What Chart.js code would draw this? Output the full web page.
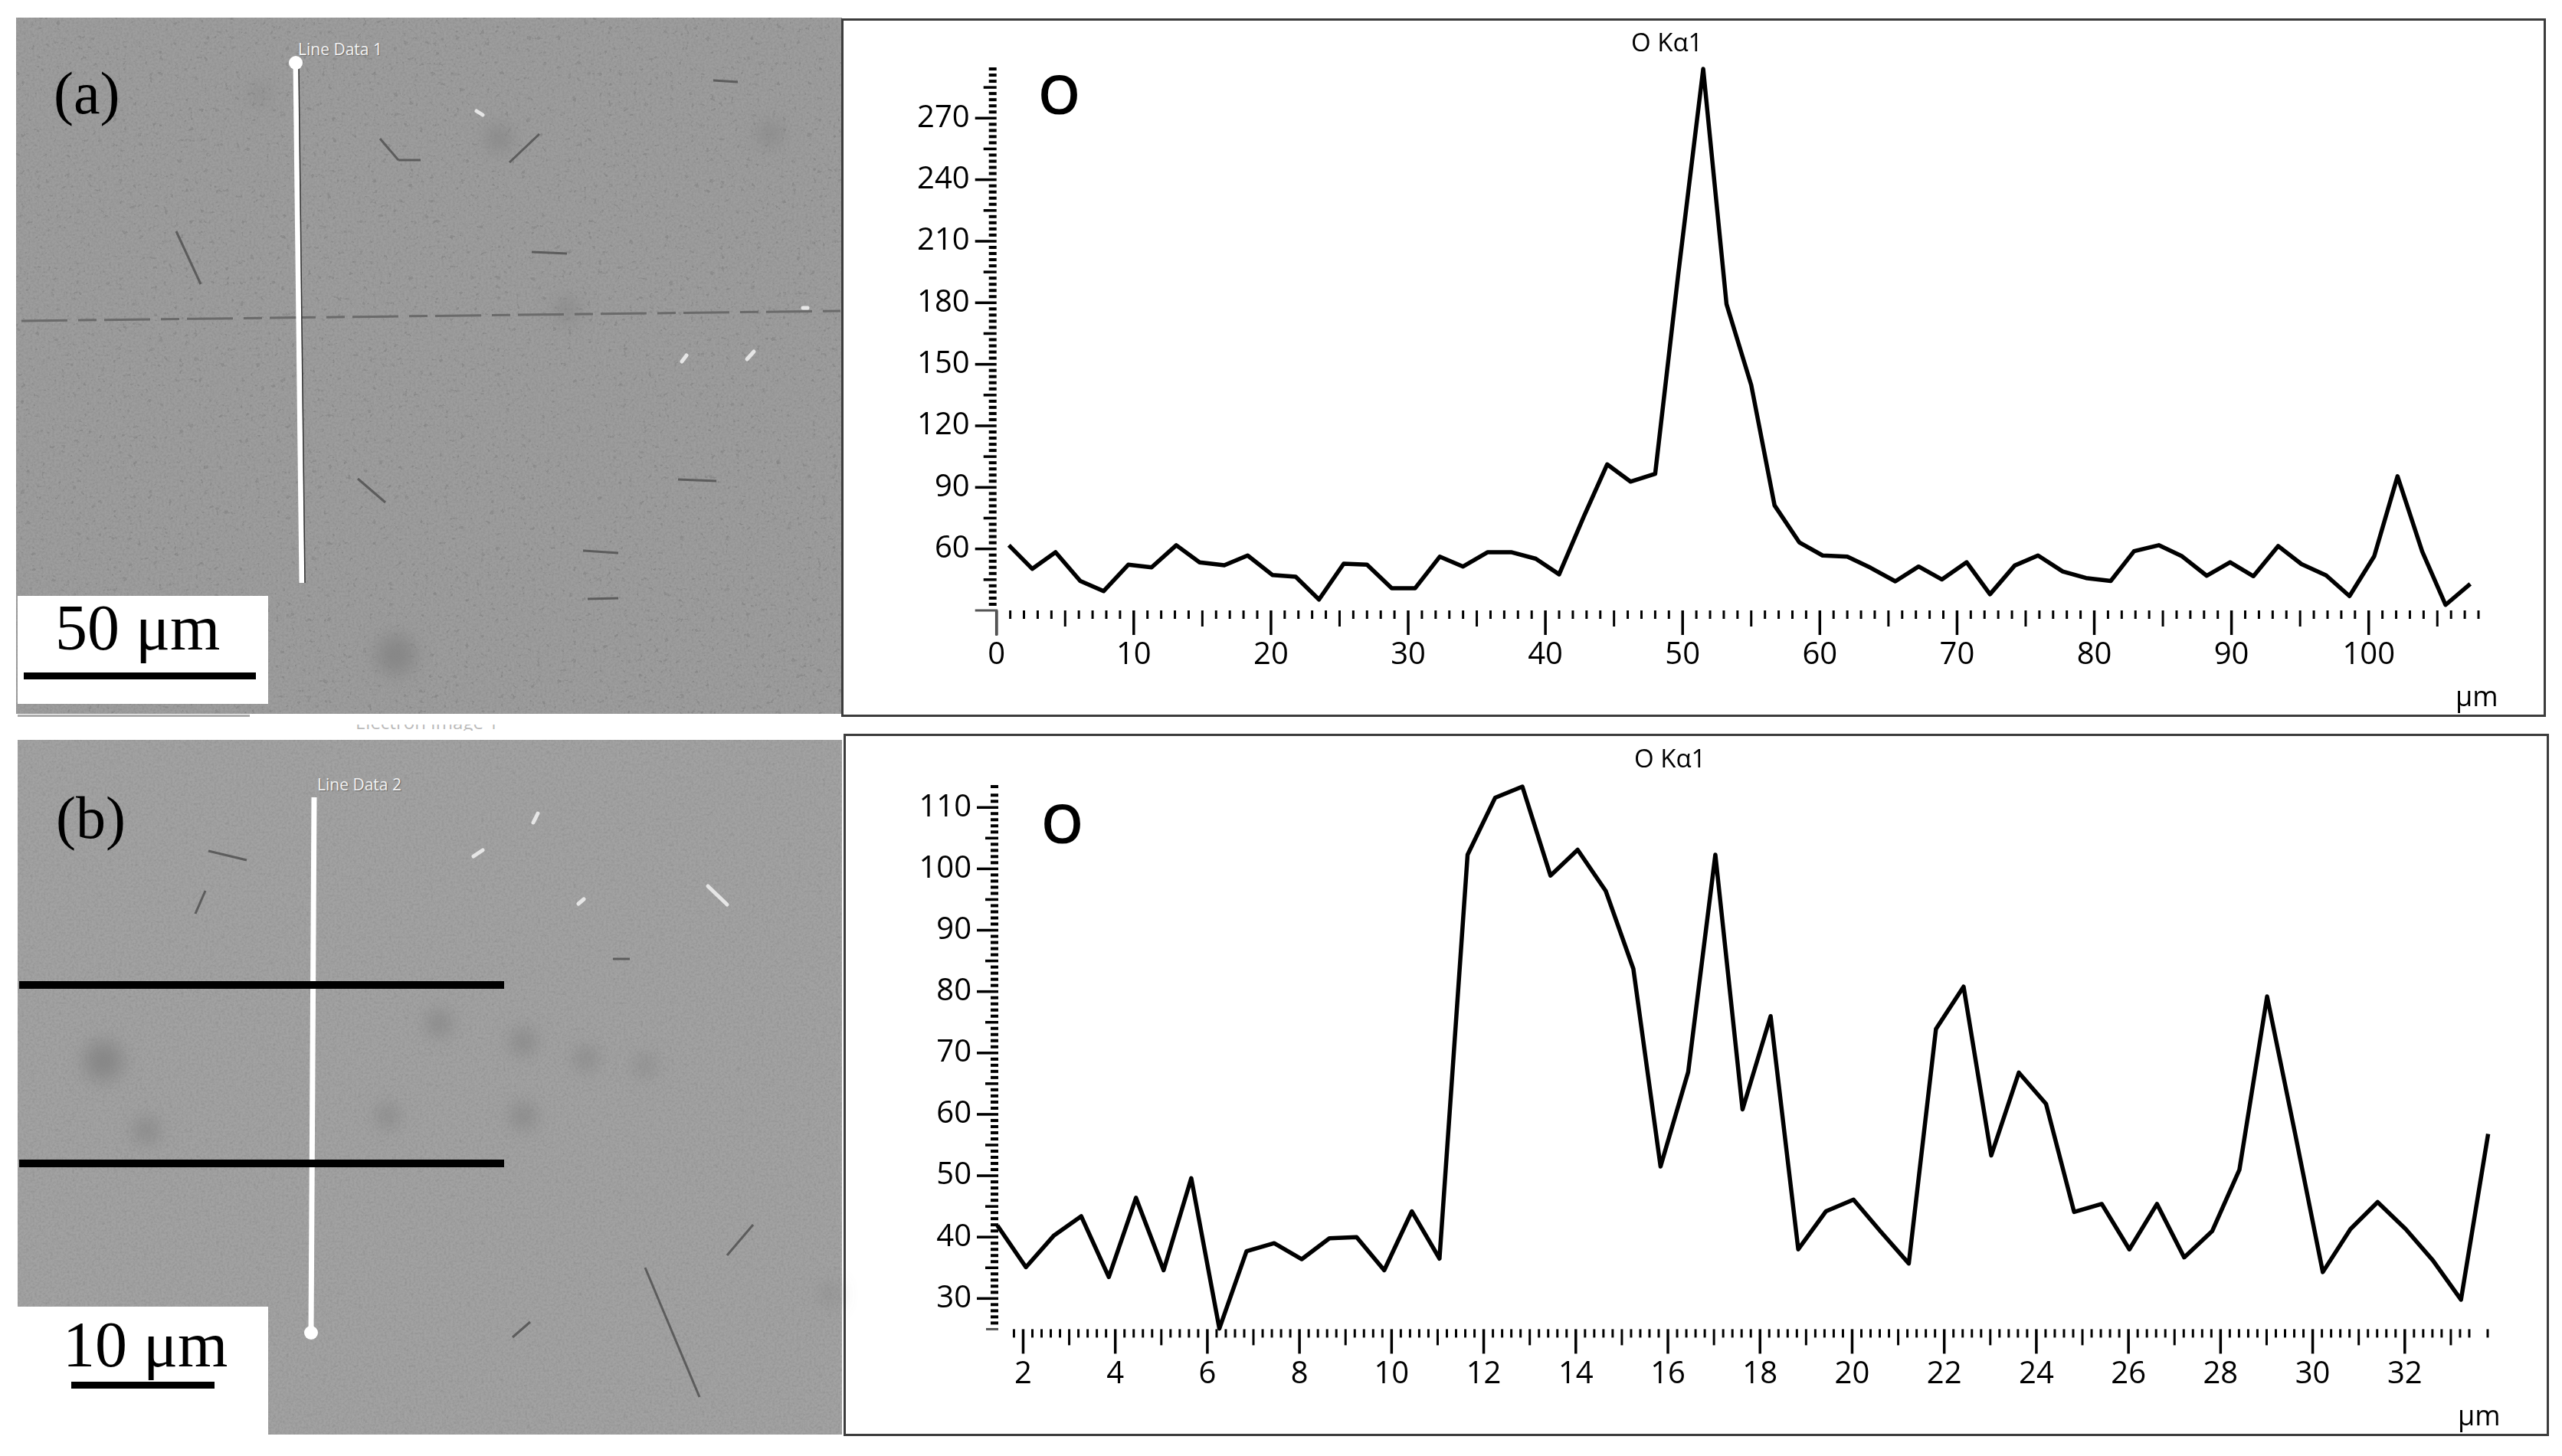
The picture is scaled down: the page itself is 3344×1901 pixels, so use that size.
<!DOCTYPE html>
<html lang="en">
<head>
  <meta charset="UTF-8" />
  <title>O Kα1 line scans</title>
  <script src="https://cdn.jsdelivr.net/npm/chart.js"></script>
  <style>
    html, body { margin: 0; padding: 0; background: #fff; }
    #page { position: relative; width: 3344px; height: 1901px; overflow: hidden; background: #fff; }
    #page > * { position: absolute; }
    .frame { border: 3px solid #3c3c3c; box-sizing: border-box; }
    .panel-svg { left: 0; top: 0; }
    .whitebox { background: #fff; }
    .bar { background: #000; }
    .serif { font-family: "Liberation Serif", serif; color: #000; line-height: 1; white-space: nowrap; }
    .sans { font-family: "Open Sans", sans-serif; color: #000; line-height: 1; white-space: nowrap; }
    .linedata { font-family: "Open Sans", sans-serif; font-size: 21px; color: #f2f2f2; line-height: 1; white-space: nowrap; text-shadow: 1px 1px 1px #666; }
  </style>
</head>
<body>
  <div id="page">
    <svg class="panel-svg" id="sem" width="3344" height="1901" xmlns="http://www.w3.org/2000/svg"></svg>

    <div style="left:23px;top:933px;width:303px;height:3px;background:#aaa"></div>
    <div style="left:464px;top:946px;width:200px;height:8px;overflow:hidden;">
      <div class="sans" style="font-size:24px;color:#bbb;margin-top:-15px">Electron Image 1</div>
    </div>

    <!-- panel (a) overlays -->
    <div class="whitebox" style="left:23px;top:778px;width:327px;height:141px"></div>
    <div class="bar" style="left:31px;top:878px;width:303px;height:9px"></div>
    <div class="serif" style="left:72px;top:778px;font-size:84px">50 μm</div>
    <div class="serif" style="left:70px;top:83px;font-size:78px">(a)</div>
    <div class="linedata" style="left:389px;top:54px">Line Data 1</div>

    <!-- panel (b) overlays -->
    <div class="whitebox" style="left:23px;top:1706px;width:327px;height:169px"></div>
    <div class="bar" style="left:93px;top:1804px;width:187px;height:9px"></div>
    <div class="serif" style="left:82px;top:1714px;font-size:84px">10 μm</div>
    <div class="serif" style="left:73px;top:1029px;font-size:78px">(b)</div>
    <div class="linedata" style="left:414px;top:1014px">Line Data 2</div>

    <!-- chart frames -->
    <div class="frame" style="left:1098px;top:24px;width:2225px;height:912px"></div>
    <div class="frame" style="left:1101px;top:958px;width:2226px;height:917px"></div>

    <canvas id="chartA" width="2221" height="908" style="left:1100px;top:26px"></canvas>
    <canvas id="chartB" width="2222" height="913" style="left:1103px;top:960px"></canvas>

    <div class="sans" style="left:2129px;top:38px;font-size:33px">O Kα1</div>
    <div class="sans" style="left:2133px;top:973px;font-size:33px">O Kα1</div>
    <div class="sans" style="left:1355px;top:87px;font-size:70px;font-weight:600">O</div>
    <div class="sans" style="left:1359px;top:1039px;font-size:70px;font-weight:600">O</div>
    <div class="sans" style="left:3205px;top:891px;font-size:36px">μm</div>
    <div class="sans" style="left:3208px;top:1830px;font-size:36px">μm</div>
  </div>

  <script>
    // chart (a)
    const xA = [0.9, 2.6, 4.3, 6.1, 7.8, 9.6, 11.3, 13.1, 14.8, 16.6, 18.3, 20.1, 21.8, 23.5, 25.3, 27.0,
      28.8, 30.5, 32.3, 34.0, 35.8, 37.5, 39.3, 41.0, 42.8, 44.5, 46.2, 48.0, 49.7, 51.5, 53.2, 55.0,
      56.7, 58.5, 60.2, 62.0, 63.7, 65.5, 67.2, 68.9, 70.7, 72.4, 74.2, 75.9, 77.7, 79.4, 81.2, 82.9,
      84.7, 86.4, 88.2, 89.9, 91.6, 93.4, 95.1, 96.9, 98.6, 100.4, 102.1, 103.9, 105.6, 107.4];
    const oA = [61.8, 50.3, 58.4, 44.4, 39.4, 52.3, 51, 61.8, 53.4, 52, 56.8, 47.3, 46.4, 35.3, 52.8, 52.3,
      40.8, 40.8, 56.2, 51.4, 58.4, 58.4, 55.2, 47.6, 75.8, 101.2, 92.8, 96.6, 195, 294, 179.3, 139.9,
      81.2, 63.2, 56.8, 56.2, 50.8, 44.2, 51.4, 45.1, 53.5, 37.9, 51.9, 56.8, 49, 45.8, 44.4, 58.9,
      61.8, 56.4, 46.9, 53.5, 46.7, 61.4, 52.6, 47.1, 37, 56.4, 95.4, 58.7, 32.7, 42.9];

    // chart (b)
    const xB = [1.44, 2.06, 2.66, 3.26, 3.86, 4.45, 5.05, 5.65, 6.26, 6.85, 7.45, 8.05, 8.65, 9.24, 9.84,
      10.44, 11.04, 11.65, 12.25, 12.84, 13.45, 14.04, 14.65, 15.25, 15.84, 16.44, 17.03, 17.62, 18.23,
      18.83, 19.43, 20.03, 20.62, 21.23, 21.82, 22.42, 23.02, 23.62, 24.21, 24.82, 25.42, 26.02, 26.62,
      27.21, 27.82, 28.41, 29.01, 29.62, 30.22, 30.82, 31.41, 32.02, 32.61, 33.22, 33.81, 33.87];
    const oB = [41.9, 35.1, 40.2, 43.4, 33.5, 46.4, 34.6, 49.6, 25.1, 37.7, 39, 36.4, 39.8, 40, 34.6,
      44.2, 36.5, 102.3, 111.6, 113.4, 98.9, 103.1, 96.4, 83.7, 51.5, 66.9, 102.3, 60.8, 76,
      38, 44.2, 46.1, 40.9, 35.7, 73.9, 80.8, 53.3, 66.8, 61.7, 44.1, 45.4, 38, 45.4,
      36.7, 41, 51, 79.2, 56.8, 34.3, 41.3, 45.7, 41.3, 36.2, 29.8, 56.8, 54.9];

    const isMult = (v, m) => Math.abs(v / m - Math.round(v / m)) < 1e-6;

    // instrument style ticks: three lengths, no axis lines
    const tickPlugin = {
      id: 'tickPlugin',
      afterDraw(chart, args, o) {
        const { ctx, scales: { x, y } } = chart;
        ctx.save();
        ctx.strokeStyle = '#000';
        x.ticks.forEach(t => {
          if (t.value === x.min && !isMult(t.value, o.xMajor)) return;
          const px = x.getPixelForValue(t.value);
          let len = 11, w = 3;
          if (isMult(t.value, o.xMajor)) { len = 32; w = 3.5; }
          else if (isMult(t.value, o.xMid)) { len = 21; }
          ctx.lineWidth = w;
          ctx.beginPath();
          ctx.moveTo(px, x.top);
          ctx.lineTo(px, x.top + len);
          ctx.stroke();
        });
        y.ticks.forEach(t => {
          if (t.value === y.min) return;
          const py = y.getPixelForValue(t.value);
          let len = 10, w = 4;
          if (isMult(t.value, o.yMajor)) { len = 28; w = 3.5; }
          else if (isMult(t.value, o.yMid)) { len = 17; w = 3.5; }
          ctx.lineWidth = w;
          ctx.beginPath();
          ctx.moveTo(y.right, py);
          ctx.lineTo(y.right - len, py);
          ctx.stroke();
        });
        // bottom left corner of the axes
        ctx.lineWidth = 3;
        ctx.strokeStyle = '#555';
        ctx.beginPath();
        ctx.moveTo(y.right - o.stub, y.bottom);
        ctx.lineTo(y.right, y.bottom);
        ctx.lineTo(y.right, y.bottom + o.drop);
        ctx.stroke();
        ctx.restore();
      }
    };

    function makeChart(id, xs, ys, c) {
      const font = { family: '"Open Sans", sans-serif', size: 40 };
      return new Chart(document.getElementById(id), {
        type: 'line',
        data: {
          datasets: [{
            data: xs.map((x, i) => ({ x: x, y: ys[i] })),
            borderColor: '#000',
            borderWidth: 5.5,
            pointRadius: 0,
            tension: 0,
            borderJoinStyle: 'round',
            clip: false
          }]
        },
        options: {
          responsive: false,
          animation: false,
          devicePixelRatio: 1,
          layout: { padding: { top: c.top, right: c.right, left: 0, bottom: 0 } },
          plugins: {
            legend: { display: false },
            tooltip: { enabled: false },
            tickPlugin: c.ticks
          },
          scales: {
            x: {
              type: 'linear',
              min: c.xMin,
              max: c.xMax,
              grid: { display: false },
              border: { display: false },
              ticks: {
                stepSize: c.xStep,
                autoSkip: false,
                maxRotation: 0,
                padding: 27,
                color: '#000',
                font: font,
                callback: v => isMult(v, c.ticks.xMajor) ? String(Math.round(v)) : ''
              },
              afterFit: s => { s.height = c.bottom; }
            },
            y: {
              min: c.yMin,
              max: c.yMax,
              grid: { display: false },
              border: { display: false },
              ticks: {
                stepSize: c.yStep,
                autoSkip: false,
                padding: 27,
                color: '#000',
                font: font,
                callback: v => (isMult(v, c.ticks.yMajor) && v >= c.yLabelFrom) ? String(Math.round(v)) : ''
              },
              afterFit: s => { s.width = c.left; }
            }
          }
        },
        plugins: [tickPlugin]
      });
    }

    makeChart('chartA', xA, oA, {
      left: 200.7, right: 86, top: 64, bottom: 137,
      xMin: 0, xMax: 108, xStep: 1, yMin: 30, yMax: 294, yStep: 3, yLabelFrom: 60,
      ticks: { xMajor: 10, xMid: 5, yMajor: 30, yMid: 15, stub: 28, drop: 33 }
    });
    makeChart('chartB', xB, oB, {
      left: 200, right: 78, top: 67, bottom: 137.6,
      xMin: 1.46, xMax: 33.8, xStep: 0.2, yMin: 25, yMax: 113.4, yStep: 1, yLabelFrom: 30,
      ticks: { xMajor: 2, xMid: 1, yMajor: 10, yMid: 5, stub: 16, drop: 0 }
    });

    // SEM micrographs: plain grey with grain and the most visible features
    const darkStrokes = [
      [694, 329, 740, 331], [496, 181, 520, 209], [520, 209, 549, 209], [665, 212, 704, 175],
      [885, 626, 935, 628], [467, 625, 503, 656], [761, 719, 807, 722], [230, 302, 262, 371],
      [931, 105, 963, 107], [767, 782, 807, 781], [842, 1655, 913, 1824], [949, 1639, 983, 1599],
      [669, 1746, 692, 1726], [272, 1111, 322, 1123], [255, 1193, 268, 1163], [800, 1252, 822, 1252]
    ];
    const lightStrokes = [
      [1048, 402, 1054, 402], [890, 472, 896, 464], [975, 469, 984, 459], [622, 145, 630, 150],
      [924, 1157, 949, 1181], [696, 1074, 702, 1062], [618, 1118, 630, 1110], [755, 1180, 762, 1174]
    ];
    const blobs = [
      [517, 855, 26], [1005, 175, 14], [651, 181, 16], [135, 1385, 26], [1083, 1690, 10],
      [765, 1382, 14], [842, 1391, 12], [683, 1360, 16], [573, 1336, 16], [506, 1457, 14],
      [683, 1457, 16], [191, 1476, 16], [340, 123, 10], [740, 405, 14]
    ];

    const svg = document.getElementById('sem');
    let parts = `<defs>
      <filter id="grain" x="0" y="0" width="100%" height="100%">
        <feTurbulence type="fractalNoise" baseFrequency="0.35" numOctaves="2" seed="4"/>
        <feColorMatrix type="matrix" values="0 0 0 0 0  0 0 0 0 0  0 0 0 0 0  1.5 0 0 0 -0.55"/>
      </filter>
      <filter id="specks" x="0" y="0" width="100%" height="100%">
        <feTurbulence type="fractalNoise" baseFrequency="0.15" numOctaves="3" seed="11"/>
        <feColorMatrix type="matrix" values="0 0 0 0 0.2  0 0 0 0 0.2  0 0 0 0 0.2  14 0 0 0 -9.6"/>
      </filter>
      <filter id="soft" x="-150%" y="-150%" width="400%" height="400%"><feGaussianBlur stdDeviation="12"/></filter>
    </defs>`;
    parts += '<rect x="21" y="23" width="1078" height="909" fill="#9d9d9d"/>';
    parts += '<rect x="21" y="23" width="1078" height="909" filter="url(#specks)" opacity="0.4"/>';
    parts += '<rect x="23" y="966" width="1076" height="907" fill="#a2a2a2"/>';
    parts += '<rect x="23" y="966" width="1076" height="907" filter="url(#specks)" opacity="0.12"/>';
    parts += '<rect x="21" y="23" width="1078" height="909" filter="url(#grain)" opacity="0.10"/>';
    parts += '<rect x="23" y="966" width="1076" height="907" filter="url(#grain)" opacity="0.10"/>';
    blobs.forEach(b => { parts += `<circle cx="${b[0]}" cy="${b[1]}" r="${b[2]}" fill="#868686" filter="url(#soft)"/>`; });
    darkStrokes.forEach(s => { parts += `<line x1="${s[0]}" y1="${s[1]}" x2="${s[2]}" y2="${s[3]}" stroke="#5c5c5c" stroke-width="3"/>`; });
    lightStrokes.forEach(s => { parts += `<line x1="${s[0]}" y1="${s[1]}" x2="${s[2]}" y2="${s[3]}" stroke="#e6e6e6" stroke-width="5" stroke-linecap="round"/>`; });
    // horizontal crack in (a)
    parts += '<line x1="28" y1="419" x2="1097" y2="406" stroke="#6a6a6a" stroke-width="3" stroke-dasharray="60 14 24 10"/>';
    // scan line (a)
    parts += '<line x1="386" y1="82" x2="394" y2="761" stroke="#fff" stroke-width="7"/><line x1="390" y1="90" x2="398" y2="761" stroke="#333" stroke-width="1.5"/><circle cx="386" cy="82" r="9" fill="#fff"/>';
    // scan line (b) and the two black bars
    parts += '<line x1="410" y1="1041" x2="406" y2="1740" stroke="#fff" stroke-width="7"/><circle cx="406" cy="1740" r="9" fill="#fff"/>';
    parts += '<rect x="25" y="1281" width="633" height="10" fill="#000"/><rect x="25" y="1514" width="633" height="10" fill="#000"/>';
    svg.innerHTML = parts;
  </script>
</body>
</html>
